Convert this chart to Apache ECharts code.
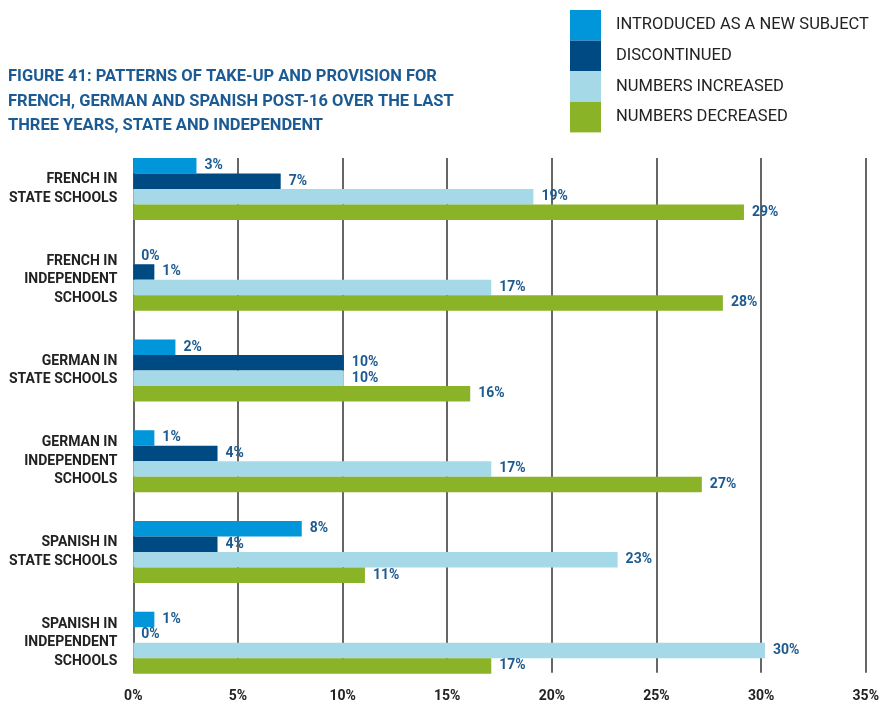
<!DOCTYPE html>
<html>
<head>
<meta charset="utf-8">
<script src="https://cdn.jsdelivr.net/npm/echarts@6/dist/echarts.min.js"></script>
<style>
html,body{margin:0;padding:0;background:#fff;}
#c{width:882px;height:704px;}
</style>
</head>
<body>
<div id="c"></div>
<script>
const categories = [
  "FRENCH IN\nSTATE SCHOOLS",
  "FRENCH IN\nINDEPENDENT\nSCHOOLS",
  "GERMAN IN\nSTATE SCHOOLS",
  "GERMAN IN\nINDEPENDENT\nSCHOOLS",
  "SPANISH IN\nSTATE SCHOOLS",
  "SPANISH IN\nINDEPENDENT\nSCHOOLS"
];
const seriesNames = [
  "INTRODUCED AS A NEW SUBJECT",
  "DISCONTINUED",
  "NUMBERS INCREASED",
  "NUMBERS DECREASED"
];
const introduced = [3, 0, 2, 1, 8, 1];
const discontinued = [7, 1, 10, 4, 4, 0];
const increased = [19, 17, 10, 17, 23, 30];
const decreased = [29, 28, 16, 27, 11, 17];
const xTicks = [0, 5, 10, 15, 20, 25, 30, 35];

const colors = ["#0096d9", "#004a84", "#a6d9e7", "#8ab327"];
const FONT = "Roboto";
const labelBlue = "#1d5a8f";

const allValues = [introduced, discontinued, increased, decreased];

const chart = echarts.init(document.getElementById('c'), null, {renderer: 'canvas'});

const L = 133.3, R = 882 - 870.3;
const series = allValues.map((vals, i) => ({
  name: seriesNames[i],
  type: 'bar',
  xAxisIndex: 1,
  yAxisIndex: 1,
  data: vals,
  barWidth: 15.5,
  barGap: '0%',
  itemStyle: {color: colors[i]},
  label: {
    show: true,
    position: 'right',
    distance: 8,
    formatter: '{c}%',
    fontFamily: FONT,
    fontWeight: 'bold',
    fontSize: 14,
    color: labelBlue,
    padding: [2, 0, 0, 0]
  },
  emphasis: {disabled: true}
}));

chart.setOption({
  animation: false,
  title: {
    text: "FIGURE 41: PATTERNS OF TAKE-UP AND PROVISION FOR\nFRENCH, GERMAN AND SPANISH POST-16 OVER THE LAST\nTHREE YEARS, STATE AND INDEPENDENT",
    left: 8,
    top: 65,
    padding: 0,
    textStyle: {
      fontFamily: FONT,
      fontWeight: 'bold',
      fontSize: 16.5,
      lineHeight: 24.5,
      color: "#1b5a92"
    }
  },
  legend: {
    data: seriesNames,
    orient: 'vertical',
    left: 570,
    top: 10,
    padding: 0,
    itemWidth: 31,
    itemHeight: 30.6,
    itemGap: 0,
    icon: 'rect',
    selectedMode: false,
    textStyle: {
      fontFamily: FONT,
      fontSize: 16.5,
      color: "#222",
      padding: [4, 0, 0, 10]
    }
  },
  grid: [
    {left: L, right: R, top: 158, bottom: 704 - 672.7},
    {left: L, right: R, top: 143.6, bottom: 704 - 688.1}
  ],
  xAxis: [
    {
      type: 'value', gridIndex: 0, min: 0, max: 35, interval: 5,
      axisLine: {show: false}, axisTick: {show: false},
      splitLine: {show: true, lineStyle: {color: '#333', width: 1.5}},
      axisLabel: {
        formatter: v => xTicks.includes(v) ? v + '%' : '',
        margin: 17,
        fontFamily: FONT, fontWeight: 'bold', fontSize: 14, color: '#222'
      }
    },
    {type: 'value', gridIndex: 1, min: 0, max: 35, show: false}
  ],
  yAxis: [
    {type: 'value', gridIndex: 0, min: 0, max: 1, show: false},
    {
      type: 'category', gridIndex: 1, data: categories, inverse: true,
      axisLine: {show: false}, axisTick: {show: false},
      splitLine: {show: false},
      axisLabel: {
        margin: 16,
        align: 'right',
        fontFamily: FONT, fontWeight: 'bold', fontSize: 14, lineHeight: 18.5, color: '#222',
        padding: [8, 0, 0, 0]
      }
    }
  ],
  series: series
});
</script>
</body>
</html>
